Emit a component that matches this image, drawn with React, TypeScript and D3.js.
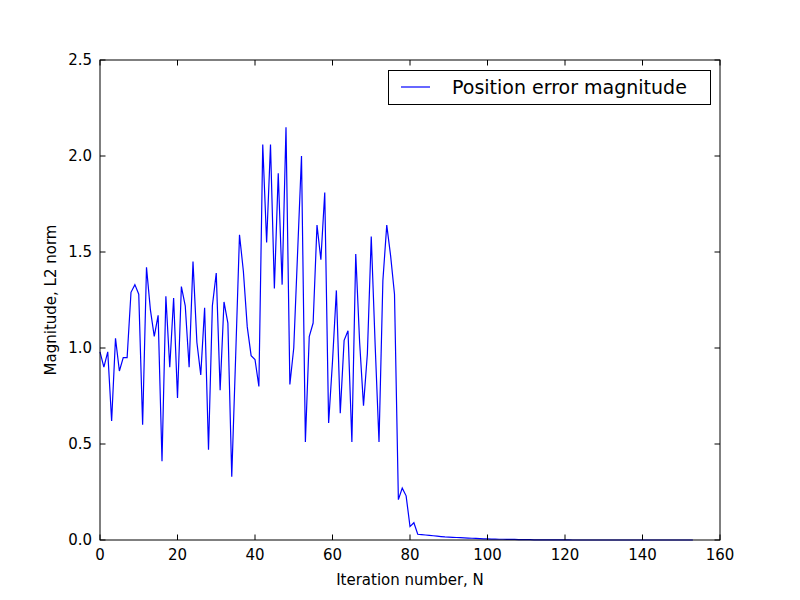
import { useEffect, useRef } from 'react';
import * as d3 from 'd3';

const errors = [
  0.98, 0.9, 0.98, 0.62, 1.05, 0.88, 0.95, 0.95, 1.29, 1.33,
  1.28, 0.6, 1.42, 1.2, 1.06, 1.17, 0.41, 1.27, 0.9, 1.26,
  0.74, 1.32, 1.22, 0.9, 1.45, 1.03, 0.86, 1.21, 0.47, 1.22,
  1.39, 0.78, 1.24, 1.13, 0.33, 0.95, 1.59, 1.4, 1.11, 0.96,
  0.94, 0.8, 2.06, 1.55, 2.06, 1.31, 1.91, 1.33, 2.15, 0.81,
  1.0, 1.5, 2.0, 0.51, 1.06, 1.13, 1.64, 1.46, 1.81, 0.61,
  0.93, 1.3, 0.66, 1.04, 1.09, 0.51, 1.49, 1.03, 0.7, 0.97,
  1.58, 1.02, 0.51, 1.35, 1.64, 1.48, 1.28, 0.21, 0.27, 0.23,
  0.07, 0.09, 0.03, 0.028, 0.026, 0.024, 0.022, 0.02, 0.018, 0.016,
  0.015, 0.014, 0.013, 0.012, 0.011, 0.01, 0.009, 0.008, 0.007, 0.006,
  0.006, 0.005, 0.005, 0.004, 0.004, 0.003, 0.003, 0.003, 0.002, 0.002,
  0.002, 0.002, 0.001, 0.001, 0.001, 0.001, 0.001, 0.001, 0.001, 0.001,
  0.001, 0.001, 0, 0, 0, 0, 0, 0, 0, 0,
  0, 0, 0, 0, 0, 0, 0, 0, 0, 0,
  0, 0, 0, 0, 0, 0, 0, 0, 0, 0,
  0, 0, 0, 0,
];
const xTicks = [0, 20, 40, 60, 80, 100, 120, 140, 160];
const yTicks = [0, 0.5, 1.0, 1.5, 2.0, 2.5];

const App = () => {
  const ref = useRef<SVGSVGElement>(null);

  useEffect(() => {
    if (!ref.current) return;
    const svg = d3.select(ref.current);
    svg.selectAll('*').remove();
    const left = 100, right = 720, top = 60, bottom = 540;
    const font = 'DejaVu Sans, sans-serif';

    const x = d3.scaleLinear().domain([0, 160]).range([left, right]);
    const y = d3.scaleLinear().domain([0, 2.5]).range([bottom, top]);

    svg.append('rect').attr('width', 800).attr('height', 600).attr('fill', '#fff');

    const line = d3.line<number>().x((_, i) => x(i)).y(d => y(d));
    svg.append('path').datum(errors).attr('d', line)
      .attr('fill', 'none').attr('stroke', '#0000ff').attr('stroke-width', 1.2);

    const tick = 5.5;
    const xa = svg.append('g').attr('font-family', font).attr('font-size', 15);
    xTicks.forEach(t => {
      xa.append('line').attr('x1', x(t)).attr('x2', x(t)).attr('y1', bottom).attr('y2', bottom - tick).attr('stroke', '#000');
      xa.append('line').attr('x1', x(t)).attr('x2', x(t)).attr('y1', top).attr('y2', top + tick).attr('stroke', '#000');
      xa.append('text').attr('x', x(t)).attr('y', bottom + 20).attr('text-anchor', 'middle').text(t);
    });
    yTicks.forEach(t => {
      xa.append('line').attr('x1', left).attr('x2', left + tick).attr('y1', y(t)).attr('y2', y(t)).attr('stroke', '#000');
      xa.append('line').attr('x1', right).attr('x2', right - tick).attr('y1', y(t)).attr('y2', y(t)).attr('stroke', '#000');
      xa.append('text').attr('x', left - 8).attr('y', y(t)).attr('dy', '0.35em').attr('text-anchor', 'end').text(t.toFixed(1));
    });

    svg.append('rect').attr('x', left).attr('y', top).attr('width', right - left).attr('height', bottom - top)
      .attr('fill', 'none').attr('stroke', '#000').attr('stroke-width', 1);

    svg.append('text').attr('x', (left + right) / 2).attr('y', 585).attr('text-anchor', 'middle')
      .attr('font-family', font).attr('font-size', 15).text('Iteration number, N');
    svg.append('text').attr('transform', `translate(56,${(top + bottom) / 2}) rotate(-90)`).attr('text-anchor', 'middle')
      .attr('font-family', font).attr('font-size', 15).text('Magnitude, L2 norm');

    const lg = svg.append('g');
    lg.append('rect').attr('x', 388.5).attr('y', 70.5).attr('width', 322).attr('height', 34)
      .attr('fill', '#fff').attr('stroke', '#000');
    lg.append('line').attr('x1', 401).attr('x2', 430).attr('y1', 87).attr('y2', 87).attr('stroke', '#0000ff').attr('stroke-width', 1.2);
    lg.append('text').attr('x', 452).attr('y', 87).attr('dy', '0.35em').attr('font-family', font).attr('font-size', 19)
      .text('Position error magnitude');
  }, []);

  return <svg ref={ref} width={800} height={600} style={{ position: 'absolute', left: 0, top: 0 }} />;
};

export default App;
